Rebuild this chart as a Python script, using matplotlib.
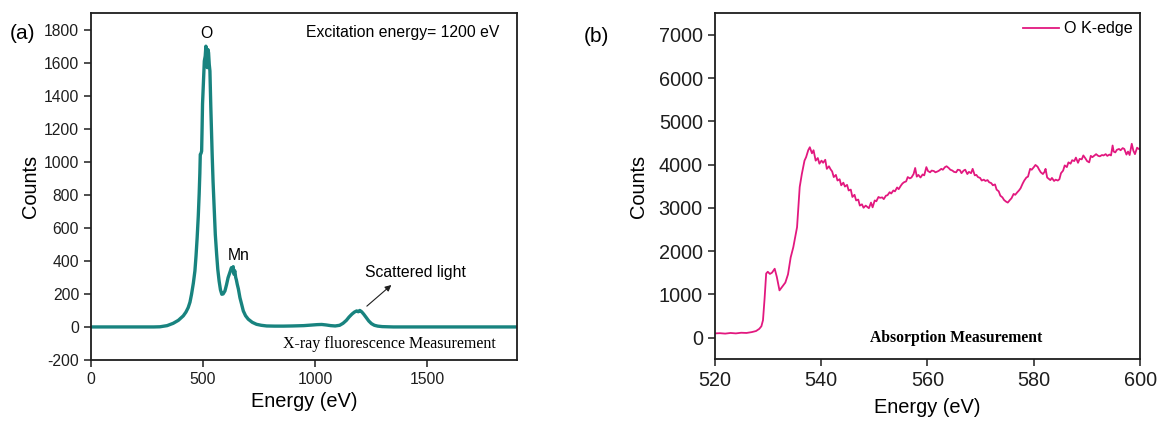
import numpy as np
import matplotlib.pyplot as plt

plt.rcParams['font.family'] = ['Liberation Sans', 'DejaVu Sans']
plt.rcParams['axes.unicode_minus'] = False

# (a) X-ray fluorescence spectrum, excitation at 1200 eV
xrf_energy = [0, 100, 200, 280, 308, 340, 367, 390, 412, 424, 434, 442, 449, 457,
              464, 469, 474, 479, 483, 486, 488, 491, 494, 496, 498, 502, 506, 510,
              513, 516, 519, 522, 525, 528, 531, 535, 541, 545, 550, 555, 561, 566,
              572, 578, 584, 590, 598, 605, 612, 620, 627, 631, 635, 638, 642, 646,
              649, 653, 658, 665, 672, 680, 690, 702, 720, 739, 760, 784, 820, 860,
              900, 950, 990, 1010, 1030, 1050, 1070, 1090, 1110, 1125, 1140, 1152,
              1165, 1176, 1186, 1193, 1200, 1208, 1217, 1228, 1240, 1252, 1265, 1280,
              1300, 1350, 1450, 1600, 1750, 1900]
xrf_counts = [0, 0, 0, 0, 1, 8, 22, 40, 67, 90, 117, 150, 198, 265,
              339, 430, 540, 670, 805, 930, 1045, 1050, 1065, 1200, 1350, 1480, 1610, 1640,
              1700, 1610, 1570, 1680, 1660, 1590, 1550, 1330, 1045, 880, 720, 560, 440, 350,
              278, 225, 198, 200, 218, 255, 298, 330, 359, 340, 365, 320, 340, 300,
              285, 258, 230, 177, 140, 97, 68, 47, 28, 16, 10, 6, 5, 5,
              6, 8, 12, 14, 15, 12, 8, 6, 10, 22, 40, 60,
              78, 90, 97, 92, 100, 92, 78, 58, 36, 20, 10, 5,
              2, 0, 0, 0, 0, 0]

# (b) O K-edge absorption spectrum
xas_energy = [520, 521, 522, 523, 524, 525, 526, 527, 527.8, 528.4, 528.8, 529.1,
              529.4, 529.7, 530.0, 530.4, 530.8, 531.3, 531.7, 532.2, 532.7, 533.3,
              533.8, 534.3, 534.8, 535.5, 536.0, 536.4, 536.9, 537.2, 537.6, 537.9,
              538.3, 538.6, 539.0, 539.4, 539.7, 540.1, 540.4, 540.8, 541.1, 541.5,
              541.8, 542.1, 542.4, 542.8, 543.1, 543.5, 543.8, 544.2, 544.5, 544.9,
              545.2, 545.6, 545.9, 546.3, 546.6, 547.0, 547.3, 547.7, 548.0, 548.4,
              548.7, 549.0, 549.4, 549.7, 550.1, 550.4, 550.8, 551.1, 551.5, 551.8,
              552.2, 552.5, 552.9, 553.2, 553.6, 553.9, 554.3, 554.6, 555.0, 555.3,
              555.6, 556.0, 556.3, 556.7, 557.0, 557.4, 557.7, 558.0, 558.3, 558.7,
              559.1, 559.4, 559.8, 560.1, 560.5, 560.8, 561.2, 561.5, 561.9, 562.2,
              562.6, 562.9, 563.3, 563.6, 564.0, 564.3, 564.7, 565.0, 565.4, 565.7,
              566.1, 566.4, 566.8, 567.1, 567.5, 567.8, 568.2, 568.5, 568.9, 569.2,
              569.5, 569.9, 570.2, 570.6, 570.9, 571.3, 571.6, 572.0, 572.3, 572.7,
              573.0, 573.4, 573.7, 574.1, 574.4, 574.8, 575.1, 575.5, 575.8, 576.2,
              576.5, 576.9, 577.2, 577.5, 577.9, 578.2, 578.6, 578.9, 579.3, 579.6,
              580.0, 580.3, 580.7, 581.0, 581.3, 581.7, 582.0, 582.2, 582.5, 582.8,
              583.1, 583.4, 583.8, 584.1, 584.5, 584.8, 585.1, 585.5, 585.8, 586.2,
              586.5, 586.9, 587.2, 587.6, 587.9, 588.3, 588.6, 589.0, 589.3, 589.7,
              590.0, 590.4, 590.7, 591.0, 591.4, 591.7, 592.1, 592.4, 592.8, 593.1,
              593.5, 593.8, 594.2, 594.5, 594.8, 595.0, 595.3, 595.6, 596.0, 596.3,
              596.7, 597.0, 597.4, 597.7, 598.0, 598.4, 598.7, 599.0, 599.4, 599.7, 600]
xas_counts = [95, 100, 90, 105, 95, 110, 105, 125, 150, 200, 260, 400,
              900, 1480, 1520, 1470, 1500, 1590, 1400, 1090, 1170, 1270,
              1460, 1850, 2090, 2550, 3480, 3780, 4090, 4170, 4330, 4400,
              4260, 4330, 4090, 4150, 4020, 4090, 4040, 4110, 3900, 3960,
              3890, 3840, 3710, 3760, 3630, 3660, 3520, 3580, 3490, 3530,
              3400, 3420, 3250, 3300, 3170, 3190, 3050, 3080, 3000, 3050,
              3020, 2990, 3120, 3010, 3170, 3150, 3250, 3230, 3240, 3200,
              3280, 3290, 3360, 3330, 3400, 3380, 3470, 3430, 3510, 3560,
              3590, 3610, 3710, 3680, 3700, 3780, 3920, 3720, 3760, 3700,
              3770, 3750, 3940, 3850, 3820, 3860, 3850, 3820, 3840, 3860,
              3900, 3880, 3940, 3960, 3920, 3880, 3860, 3830, 3820, 3880,
              3870, 3800, 3860, 3880, 3780, 3830, 3800, 3900, 3750, 3760,
              3710, 3690, 3630, 3650, 3620, 3640, 3590, 3570, 3520, 3540,
              3420, 3380, 3280, 3240, 3180, 3140, 3120, 3180, 3220, 3320,
              3300, 3360, 3400, 3450, 3560, 3630, 3700, 3720, 3900, 3880,
              3940, 3990, 3950, 3880, 3820, 3780, 3830, 3900, 3700, 3670,
              3640, 3690, 3620, 3650, 3630, 3660, 3800, 3860, 3980, 3940,
              4050, 4020, 4100, 4080, 4160, 4040, 4130, 4120, 4210, 4140,
              4080, 4050, 4200, 4170, 4210, 4240, 4200, 4190, 4220, 4210,
              4240, 4200, 4230, 4210, 4440, 4300, 4280, 4340, 4360, 4330,
              4380, 4360, 4230, 4300, 4220, 4480, 4320, 4240, 4390, 4360, 4360]

teal = '#18837f'
pink = '#e2187f'
ink = '#1e1e1e'

fig = plt.figure(figsize=(11.6, 4.25), dpi=100)
ax1 = fig.add_axes([0.0784, 0.153, 0.367, 0.816])
ax2 = fig.add_axes([0.616, 0.155, 0.367, 0.814])

for ax in (ax1, ax2):
    for s in ax.spines.values():
        s.set_linewidth(1.3)
        s.set_color(ink)
    ax.tick_params(direction='out', length=5, width=1.1, top=False, right=False,
                   colors=ink)

# panel (a)
ax1.plot(xrf_energy, xrf_counts, color=teal, lw=2.4)
ax1.set_xlim(0, 1900)
ax1.set_ylim(-200, 1900)
ax1.set_xticks([0, 500, 1000, 1500])
ax1.set_yticks(np.arange(-200, 1801, 200))
ax1.tick_params(labelsize=11.3)
ax1.set_xlabel('Energy (eV)', fontsize=14.4, labelpad=4)
ax1.set_ylabel('Counts', fontsize=14.4, labelpad=3)
ax1.text(514, 1775, 'O', fontsize=11.3, ha='center', va='center')
ax1.text(660, 430, 'Mn', fontsize=11.3, ha='center', va='center')
ax1.text(1450, 330, 'Scattered light', fontsize=11.3, ha='center', va='center')
ax1.annotate('', xy=(1350, 265), xytext=(1222, 115),
             arrowprops=dict(arrowstyle='-|>', color=ink, lw=0.8,
                             mutation_scale=9))
ax1.text(0.96, 0.945, 'Excitation energy= 1200 eV', transform=ax1.transAxes,
         fontsize=11.3, ha='right', va='center')
ax1.text(0.95, 0.046, 'X-ray fluorescence Measurement', transform=ax1.transAxes,
         fontsize=11.5, ha='right', va='center', family='Liberation Serif')
fig.text(0.019, 0.922, '(a)', fontsize=15, ha='center', va='center')

# panel (b)
ax2.plot(xas_energy, xas_counts, color=pink, lw=1.3, label='O K-edge')
ax2.set_xlim(520, 600)
ax2.set_ylim(-500, 7500)
ax2.set_xticks([520, 540, 560, 580, 600])
ax2.set_yticks(np.arange(0, 7001, 1000))
ax2.tick_params(labelsize=14.3)
ax2.set_xlabel('Energy (eV)', fontsize=14.4, labelpad=6)
ax2.set_ylabel('Counts', fontsize=14.4, labelpad=8)
ax2.legend(loc='upper right', frameon=False, fontsize=11.6, handlelength=2.2,
           handletextpad=0.3, borderaxespad=0.1)
ax2.text(0.568, 0.06, 'Absorption Measurement', transform=ax2.transAxes,
         fontsize=11.3, ha='center', va='center', family='Liberation Serif',
         weight='bold')
fig.text(0.514, 0.915, '(b)', fontsize=15, ha='center', va='center')

fig.savefig('out.png', dpi=100)
